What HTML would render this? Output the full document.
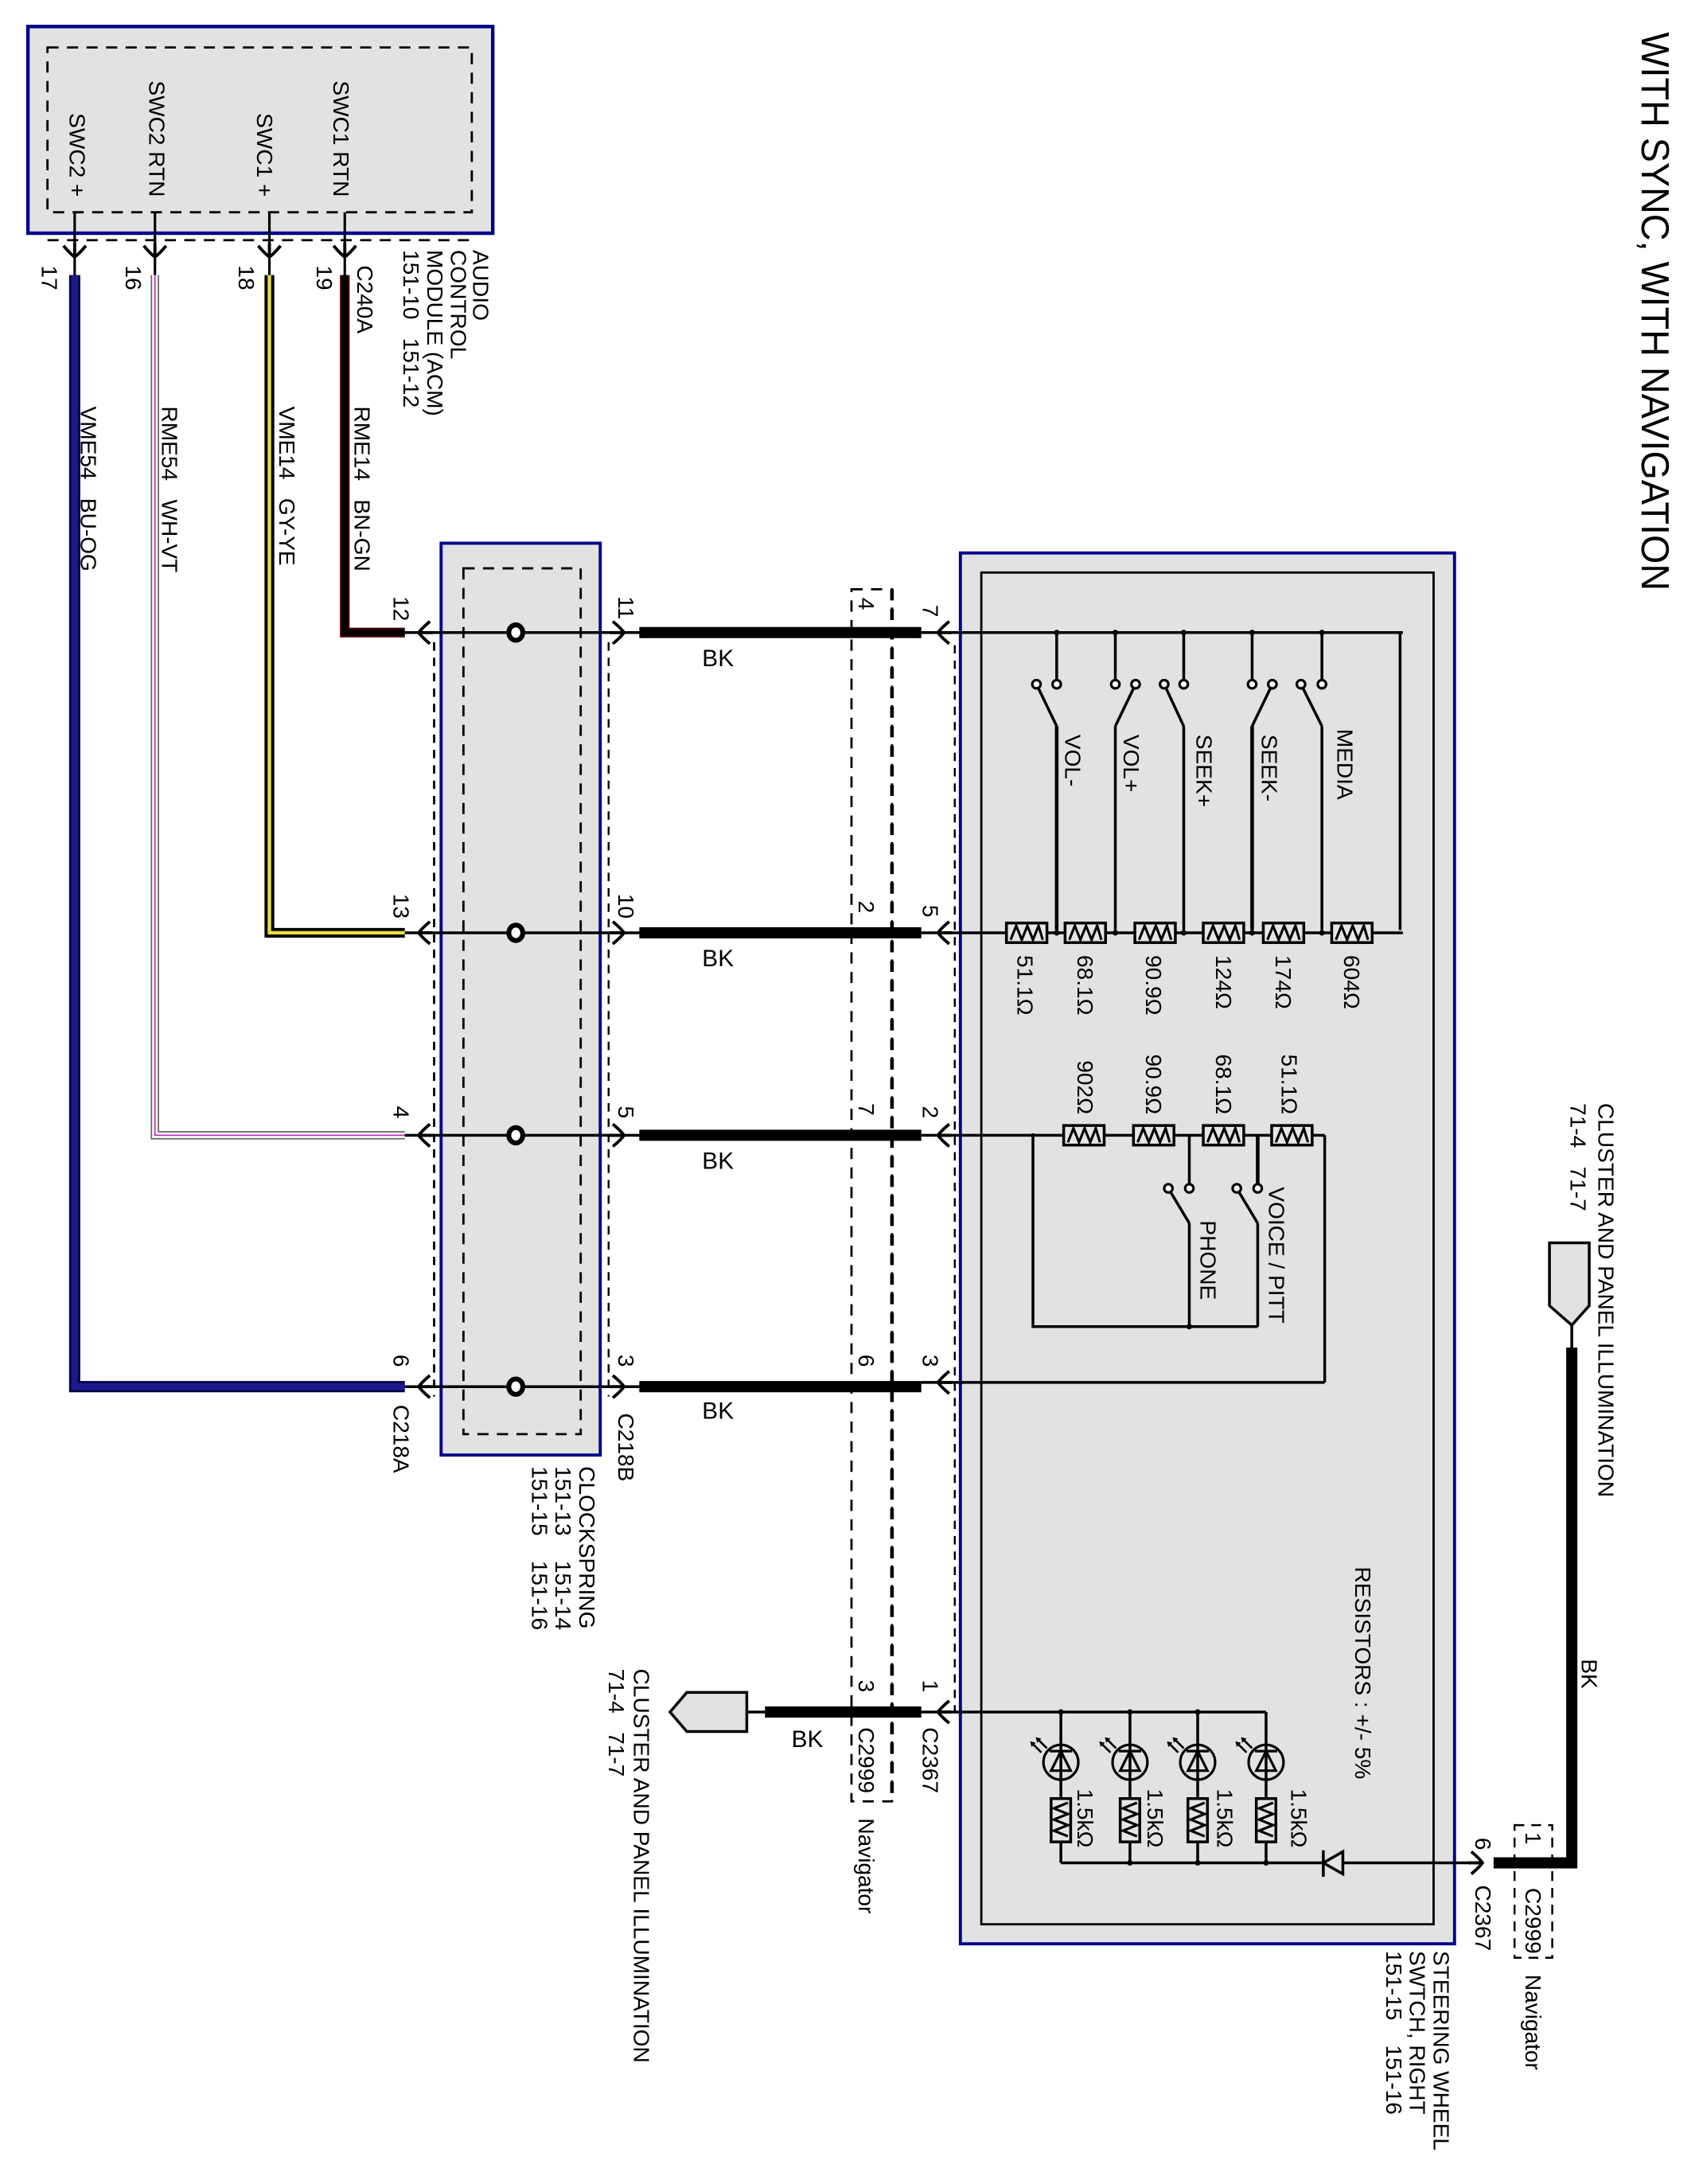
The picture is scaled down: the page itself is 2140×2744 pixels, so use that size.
<!DOCTYPE html>
<html><head><meta charset="utf-8"><style>
html,body{margin:0;padding:0;background:#fff}
svg{display:block}
text{font-family:"Liberation Sans",Arial,sans-serif;fill:#000}
</style></head><body>
<svg width="2140" height="2744" viewBox="0 0 1220 1564" preserveAspectRatio="none" xmlns="http://www.w3.org/2000/svg">
<defs>
<g id="rh"><rect x="0" y="-7" width="29" height="14" fill="#e6e6e6" stroke="#000" stroke-width="2"/><polyline points="3,5 7,-5 11,5 15,-5 19,5 23,-5 26,5" fill="none" stroke="#000" stroke-width="1.8"/></g>
<g id="rv"><rect x="-7" y="0" width="14" height="31" fill="#e6e6e6" stroke="#000" stroke-width="2"/><polyline points="5,3 -5,7 5,11 -5,15 5,19 -5,23 5,27" fill="none" stroke="#000" stroke-width="1.8"/></g>
<path id="al" d="M8,-8 Q2,-3 0,0 Q2,3 8,8 M0,0 L10,0" fill="none" stroke="#000" stroke-width="2.2"/>
<path id="ar" d="M-8,-8 Q-2,-3 0,0 Q-2,3 -8,8 M0,0 L-10,0" fill="none" stroke="#000" stroke-width="2.2"/>
<path id="ad" d="M-8,-8 Q-3,-2 0,0 Q3,-2 8,-8 M0,0 L0,-10" fill="none" stroke="#000" stroke-width="2.2"/>
<g id="led"><circle cx="0" cy="0" r="12.5" fill="none" stroke="#000" stroke-width="1.8"/><polygon points="0,-8 -7,6 7,6" fill="none" stroke="#000" stroke-width="1.8"/><line x1="-8" y1="-8" x2="8" y2="-8" stroke="#000" stroke-width="1.8"/><line x1="-10" y1="-10" x2="-17" y2="-17" stroke="#000" stroke-width="1.5"/><line x1="-14" y1="-7" x2="-21" y2="-14" stroke="#000" stroke-width="1.5"/><polygon points="-18,-18 -14,-17 -17,-14" fill="#000"/><polygon points="-22,-15 -18,-14 -21,-11" fill="#000"/></g>
</defs>

<!-- Title -->
<text transform="translate(1176,23) rotate(90)" font-size="28" textLength="400" lengthAdjust="spacingAndGlyphs">WITH SYNC, WITH NAVIGATION</text>

<!-- ACM -->
<rect x="20" y="19" width="333" height="148" fill="#e2e2e2" stroke="#00008b" stroke-width="2.5"/>
<rect x="34" y="34" width="304" height="118" fill="none" stroke="#000" stroke-width="1.6" stroke-dasharray="8,6"/>
<line x1="34" y1="172" x2="338" y2="172" stroke="#000" stroke-width="1.6" stroke-dasharray="8,6"/>
<g stroke="#000" stroke-width="1.8">
<line x1="53.5" y1="152" x2="53.5" y2="197"/><line x1="111" y1="152" x2="111" y2="197"/>
<line x1="193" y1="152" x2="193" y2="197"/><line x1="247" y1="152" x2="247" y2="197"/>
</g>
<use href="#ad" x="53.5" y="184"/><use href="#ad" x="111" y="184"/><use href="#ad" x="193" y="184"/><use href="#ad" x="247" y="184"/>
<g font-size="16">
<text transform="translate(50,141) rotate(90)" text-anchor="end">SWC2 +</text>
<text transform="translate(107,141) rotate(90)" text-anchor="end">SWC2 RTN</text>
<text transform="translate(184,141) rotate(90)" text-anchor="end">SWC1 +</text>
<text transform="translate(239,141) rotate(90)" text-anchor="end">SWC1 RTN</text>
<text transform="translate(30,190) rotate(90)">17</text>
<text transform="translate(90,190) rotate(90)">16</text>
<text transform="translate(171,190) rotate(90)">18</text>
<text transform="translate(227,190) rotate(90)">19</text>
<text transform="translate(256,190) rotate(90)">C240A</text>
<text transform="translate(339,179) rotate(90)">AUDIO</text>
<text transform="translate(323,179) rotate(90)">CONTROL</text>
<text transform="translate(306,179) rotate(90)">MODULE (ACM)</text>
<text transform="translate(289,179) rotate(90)" xml:space="preserve">151-10   151-12</text>
<text transform="translate(58,291) rotate(90)" xml:space="preserve">VME54   BU-OG</text>
<text transform="translate(116,291) rotate(90)" xml:space="preserve">RME54   WH-VT</text>
<text transform="translate(200,291) rotate(90)" xml:space="preserve">VME14   GY-YE</text>
<text transform="translate(254,291) rotate(90)" xml:space="preserve">RME14   BN-GN</text>
</g>

<!-- Colored wires -->
<path d="M53.5,197 V993 H290" fill="none" stroke="#000040" stroke-width="8"/>
<path d="M53.5,197 V993 H290" fill="none" stroke="#1a1a8c" stroke-width="5"/>
<path d="M111,197 V813 H290" fill="none" stroke="#666" stroke-width="6"/>
<path d="M111,197 V813 H290" fill="none" stroke="#fff" stroke-width="4"/>
<path d="M111,197 V813 H290" fill="none" stroke="#c030c0" stroke-width="1"/>
<path d="M193,197 V668 H290" fill="none" stroke="#000" stroke-width="7"/>
<path d="M193,197 V668 H290" fill="none" stroke="#e8e040" stroke-width="2.5"/>
<path d="M247,197 V453 H290" fill="none" stroke="#600000" stroke-width="7"/>
<path d="M247,197 V453 H290" fill="none" stroke="#000" stroke-width="5"/>

<!-- Clockspring -->
<rect x="316" y="389" width="114" height="653" fill="#e2e2e2" stroke="#00008b" stroke-width="2.2"/>
<rect x="332" y="407" width="84" height="620" fill="none" stroke="#000" stroke-width="1.6" stroke-dasharray="8,6"/>
<line x1="311" y1="460" x2="311" y2="1000" stroke="#000" stroke-width="1.6" stroke-dasharray="6,5"/>
<line x1="436" y1="460" x2="436" y2="1000" stroke="#000" stroke-width="1.4" stroke-dasharray="6,5"/>
<g stroke="#000" stroke-width="2">
<line x1="290" y1="453" x2="460" y2="453"/><line x1="290" y1="668" x2="460" y2="668"/>
<line x1="290" y1="813" x2="460" y2="813"/><line x1="290" y1="993" x2="460" y2="993"/>
</g>
<g fill="#fff" stroke="#000" stroke-width="3.5">
<ellipse cx="369.5" cy="453" rx="5" ry="5.5"/><ellipse cx="369.5" cy="668" rx="5" ry="5.5"/>
<ellipse cx="369.5" cy="813" rx="5" ry="5.5"/><ellipse cx="369.5" cy="993" rx="5" ry="5.5"/>
</g>
<use href="#al" x="300" y="453"/><use href="#al" x="300" y="668"/><use href="#al" x="300" y="813"/><use href="#al" x="300" y="993"/>
<use href="#ar" x="447" y="453"/><use href="#ar" x="447" y="668"/><use href="#ar" x="447" y="813"/><use href="#ar" x="447" y="993"/>
<g font-size="16">
<text transform="translate(282,427) rotate(90)">12</text>
<text transform="translate(282,640) rotate(90)">13</text>
<text transform="translate(282,792) rotate(90)">4</text>
<text transform="translate(282,970) rotate(90)">6</text>
<text transform="translate(282,1006) rotate(90)">C218A</text>
<text transform="translate(443,427) rotate(90)">11</text>
<text transform="translate(443,640) rotate(90)">10</text>
<text transform="translate(443,792) rotate(90)">5</text>
<text transform="translate(443,970) rotate(90)">3</text>
<text transform="translate(443,1012) rotate(90)">C218B</text>
<text transform="translate(415,1050) rotate(90)">CLOCKSPRING</text>
<text transform="translate(398,1050) rotate(90)" xml:space="preserve">151-13    151-14</text>
<text transform="translate(381,1050) rotate(90)" xml:space="preserve">151-15    151-16</text>
</g>

<!-- Steering wheel box (drawn before wires) -->
<rect x="688" y="396" width="354" height="996" fill="#e2e2e2" stroke="#00008b" stroke-width="2.2"/>
<rect x="703" y="410" width="324" height="968" fill="none" stroke="#000" stroke-width="1.6"/>

<!-- BK thick wires -->
<g stroke="#000" stroke-width="8">
<line x1="458" y1="453" x2="660" y2="453"/><line x1="458" y1="668" x2="660" y2="668"/>
<line x1="458" y1="813" x2="660" y2="813"/><line x1="458" y1="993" x2="660" y2="993"/>
<line x1="548" y1="1226" x2="660" y2="1226"/>
</g>
<g stroke="#000" stroke-width="2">
<line x1="660" y1="453" x2="1005" y2="453"/><line x1="660" y1="668" x2="1005" y2="668"/>
<line x1="660" y1="813" x2="949" y2="813"/><line x1="660" y1="990" x2="949" y2="990"/>
<line x1="535" y1="1226" x2="548" y2="1226"/><line x1="660" y1="1226" x2="907" y2="1226"/>
</g>
<g font-size="17">
<text x="503" y="477">BK</text><text x="503" y="692">BK</text><text x="503" y="837">BK</text><text x="503" y="1016">BK</text>
<text x="567" y="1251">BK</text>
</g>

<!-- C2999 navigator box -->
<rect x="610" y="422" width="29" height="868" fill="none" stroke="#000" stroke-width="1.6" stroke-dasharray="8,6"/>
<line x1="639" y1="422" x2="639" y2="1290" stroke="#000" stroke-width="2.6" stroke-dasharray="8,6"/>
<line x1="684" y1="462" x2="684" y2="1232" stroke="#000" stroke-width="1.4" stroke-dasharray="6,5"/>
<g font-size="16">
<text transform="translate(615,428) rotate(90)">4</text>
<text transform="translate(615,645) rotate(90)">2</text>
<text transform="translate(615,790) rotate(90)">7</text>
<text transform="translate(615,970) rotate(90)">6</text>
<text transform="translate(615,1203) rotate(90)">3</text>
<text transform="translate(615,1237) rotate(90)">C2999</text>
<text transform="translate(615,1302) rotate(90)">Navigator</text>
<text transform="translate(661,433) rotate(90)">7</text>
<text transform="translate(661,648) rotate(90)">5</text>
<text transform="translate(661,792) rotate(90)">2</text>
<text transform="translate(661,970) rotate(90)">3</text>
<text transform="translate(661,1203) rotate(90)">1</text>
<text transform="translate(661,1237) rotate(90)">C2367</text>
</g>
<use href="#al" x="672" y="453"/><use href="#al" x="672" y="668"/><use href="#al" x="672" y="813"/><use href="#al" x="672" y="990"/><use href="#al" x="672" y="1226"/>

<!-- cluster connector bottom -->
<polygon points="480,1226 492,1212 535,1212 535,1240 492,1240" fill="#e2e2e2" stroke="#000" stroke-width="2"/>
<g font-size="16">
<text transform="translate(454,1195) rotate(90)">CLUSTER AND PANEL ILLUMINATION</text>
<text transform="translate(436,1195) rotate(90)" xml:space="preserve">71-4   71-7</text>
</g>

<g stroke="#000" stroke-width="2" fill="none">
<line x1="1003" y1="453" x2="1003" y2="666"/>
</g>
<!-- switches row1 -->
<g stroke="#000" stroke-width="2" fill="none">
<line x1="757" y1="453" x2="757" y2="487"/><line x1="742.5" y1="490" x2="757" y2="520"/><line x1="757" y1="520" x2="757" y2="666" stroke-width="2.6"/>
<line x1="799" y1="453" x2="799" y2="487"/><line x1="813.5" y1="490" x2="799" y2="520"/><line x1="799" y1="520" x2="799" y2="666"/>
<line x1="848" y1="453" x2="848" y2="487"/><line x1="834" y1="490" x2="848" y2="520"/><line x1="848" y1="520" x2="848" y2="666"/>
<line x1="897" y1="453" x2="897" y2="487"/><line x1="911.5" y1="490" x2="897" y2="520"/><line x1="897" y1="520" x2="897" y2="666" stroke-width="2.6"/>
<line x1="947" y1="453" x2="947" y2="487"/><line x1="932" y1="490" x2="947" y2="520"/><line x1="947" y1="520" x2="947" y2="666"/>
</g>
<g fill="#fff" stroke="#000" stroke-width="1.8">
<circle cx="757" cy="490" r="3"/><circle cx="742.5" cy="490" r="3"/>
<circle cx="799" cy="490" r="3"/><circle cx="813.5" cy="490" r="3"/>
<circle cx="848" cy="490" r="3"/><circle cx="834" cy="490" r="3"/>
<circle cx="897" cy="490" r="3"/><circle cx="911.5" cy="490" r="3"/>
<circle cx="947" cy="490" r="3"/><circle cx="932" cy="490" r="3"/>
</g>
<g fill="#000">
<circle cx="757" cy="453" r="2"/><circle cx="799" cy="453" r="2"/><circle cx="848" cy="453" r="2"/><circle cx="897" cy="453" r="2"/><circle cx="947" cy="453" r="2"/>
<circle cx="757" cy="668" r="2"/><circle cx="799" cy="668" r="2"/><circle cx="848" cy="668" r="2"/><circle cx="897" cy="668" r="2"/><circle cx="947" cy="668" r="2"/>
</g>
<use href="#rh" x="721" y="668"/><use href="#rh" x="763" y="668"/><use href="#rh" x="813" y="668"/><use href="#rh" x="862" y="668"/><use href="#rh" x="905" y="668"/><use href="#rh" x="954" y="668"/>
<g font-size="16">
<text transform="translate(763,526) rotate(90)">VOL-</text>
<text transform="translate(805,526) rotate(90)">VOL+</text>
<text transform="translate(857,526) rotate(90)">SEEK+</text>
<text transform="translate(904,526) rotate(90)">SEEK-</text>
<text transform="translate(958,522) rotate(90)">MEDIA</text>
<text transform="translate(729,684) rotate(90)">51.1Ω</text>
<text transform="translate(772,684) rotate(90)">68.1Ω</text>
<text transform="translate(821,684) rotate(90)">90.9Ω</text>
<text transform="translate(871,684) rotate(90)">124Ω</text>
<text transform="translate(914,684) rotate(90)">174Ω</text>
<text transform="translate(963,684) rotate(90)">604Ω</text>
<text transform="translate(772,798) rotate(90)" text-anchor="end">902Ω</text>
<text transform="translate(821,798) rotate(90)" text-anchor="end">90.9Ω</text>
<text transform="translate(871,798) rotate(90)" text-anchor="end">68.1Ω</text>
<text transform="translate(918,798) rotate(90)" text-anchor="end">51.1Ω</text>
<text transform="translate(860,874) rotate(90)">PHONE</text>
<text transform="translate(909,850) rotate(90)">VOICE / PITT</text>
<text transform="translate(971,1122) rotate(90)">RESISTORS : +/- 5%</text>
</g>
<!-- row3 network -->
<g stroke="#000" stroke-width="2" fill="none">
<line x1="949" y1="813" x2="949" y2="990"/>
<polyline points="740,813 740,950 901,950"/>
<line x1="852" y1="813" x2="852" y2="848"/><line x1="837" y1="851" x2="852" y2="876"/><line x1="852" y1="876" x2="852" y2="950"/>
<line x1="901" y1="813" x2="901" y2="848" stroke-width="2.6"/><line x1="886" y1="851" x2="901" y2="876"/><line x1="901" y1="876" x2="901" y2="950"/>
</g>
<g fill="#fff" stroke="#000" stroke-width="1.8">
<circle cx="852" cy="851" r="3"/><circle cx="837" cy="851" r="3"/><circle cx="901" cy="851" r="3"/><circle cx="886" cy="851" r="3"/>
</g>
<g fill="#000"><circle cx="852" cy="950" r="2"/><circle cx="740" cy="813" r="1.5"/></g>
<use href="#rh" x="762" y="813"/><use href="#rh" x="812" y="813"/><use href="#rh" x="862" y="813"/><use href="#rh" x="911" y="813"/>

<!-- LEDs -->
<g stroke="#000" stroke-width="2" fill="none">
<line x1="760" y1="1226" x2="760" y2="1288"/><line x1="809.5" y1="1226" x2="809.5" y2="1288"/>
<line x1="858" y1="1226" x2="858" y2="1288"/><line x1="907" y1="1226" x2="907" y2="1288"/>
<line x1="760" y1="1319" x2="760" y2="1334"/><line x1="809.5" y1="1319" x2="809.5" y2="1334"/>
<line x1="858" y1="1319" x2="858" y2="1334"/><line x1="907" y1="1319" x2="907" y2="1334"/>
<line x1="760" y1="1334" x2="1062" y2="1334"/>
</g>
<g fill="#000"><circle cx="809.5" cy="1226" r="2"/><circle cx="858" cy="1226" r="2"/><circle cx="760" cy="1226" r="2"/><circle cx="809.5" cy="1334" r="2"/><circle cx="858" cy="1334" r="2"/><circle cx="907" cy="1334" r="2"/></g>
<g fill="#e2e2e2"><use href="#led" x="760" y="1262"/><use href="#led" x="809.5" y="1262"/><use href="#led" x="858" y="1262"/><use href="#led" x="907" y="1262"/></g>
<use href="#rv" x="760" y="1288"/><use href="#rv" x="809.5" y="1288"/><use href="#rv" x="858" y="1288"/><use href="#rv" x="907" y="1288"/>
<g font-size="16">
<text transform="translate(772,1281) rotate(90)">1.5kΩ</text>
<text transform="translate(822,1281) rotate(90)">1.5kΩ</text>
<text transform="translate(872,1281) rotate(90)">1.5kΩ</text>
<text transform="translate(925,1281) rotate(90)">1.5kΩ</text>
</g>
<!-- diode -->
<polygon points="948,1334 962,1326 962,1342" fill="#e2e2e2" stroke="#000" stroke-width="2"/>
<line x1="948" y1="1325" x2="948" y2="1344" stroke="#000" stroke-width="2"/>
<!-- right side -->
<use href="#ar" x="1062" y="1334"/>
<path d="M1070,1334 H1126 V965" fill="none" stroke="#000" stroke-width="8"/>
<line x1="1126" y1="949" x2="1126" y2="968" stroke="#000" stroke-width="2"/>
<polygon points="1110,890 1138.5,890 1138.5,935 1126,949 1110,935" fill="#e2e2e2" stroke="#000" stroke-width="2"/>
<rect x="1085" y="1307" width="27" height="95" fill="none" stroke="#000" stroke-width="1.4" stroke-dasharray="7,5"/>
<g font-size="16">
<text transform="translate(1133,1188) rotate(90)">BK</text>
<text transform="translate(1145,790) rotate(90)">CLUSTER AND PANEL ILLUMINATION</text>
<text transform="translate(1125,790) rotate(90)" xml:space="preserve">71-4   71-7</text>
<text transform="translate(1093,1312) rotate(90)">1</text>
<text transform="translate(1093,1352) rotate(90)">C2999</text>
<text transform="translate(1093,1414) rotate(90)">Navigator</text>
<text transform="translate(1057,1316) rotate(90)">6</text>
<text transform="translate(1057,1350) rotate(90)">C2367</text>
<text transform="translate(1027,1397) rotate(90)">STEERING WHEEL</text>
<text transform="translate(1010,1397) rotate(90)">SWTCH, RIGHT</text>
<text transform="translate(993,1397) rotate(90)" xml:space="preserve">151-15    151-16</text>
</g>
</svg>
</body></html>
